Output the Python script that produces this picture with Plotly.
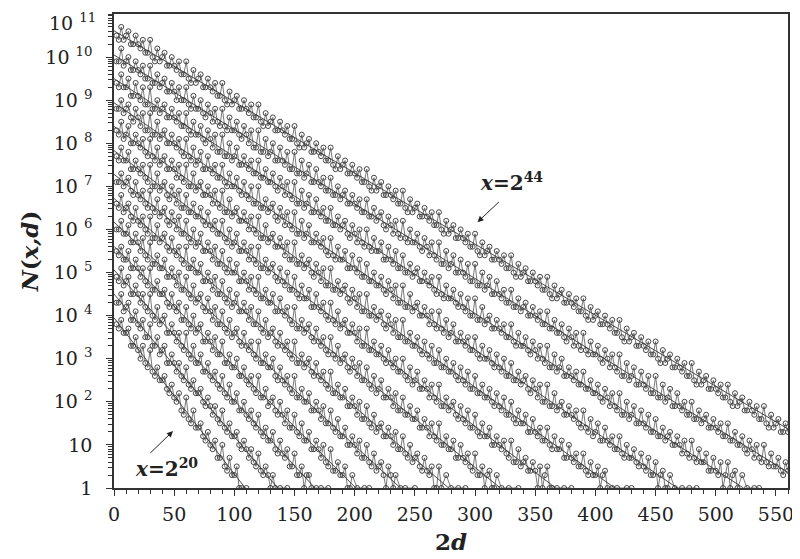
import plotly.graph_objects as go

# N(x,d): number of prime gaps of size 2d below x.
# values are log10(N) in tenths, point i is at 2d = 2*(i+1); None = no point
x_exp = [20, 22, 24, 26, 28, 30, 32, 34, 36, 38, 40, 42, 44]

n20 = [38,37,39,36,36,37,33,33,35,32,30,33,29,28,32,
       27,26,28,25,25,26,23,22,24,21,20,22,18,17,21,
       16,15,18,14,14,15,12,11,13,10,9,11,7,7,10,
       5,4,7,3,3,5,0,0,None,0]
n22 = [43,43,45,41,42,43,39,39,41,38,37,39,35,35,38,
       33,33,35,31,32,33,29,29,31,29,27,29,26,25,28,
       24,23,25,22,22,23,20,19,21,19,17,19,16,15,18,
       14,13,15,12,12,13,10,9,11,9,7,9,6,5,8,
       4,3,5,3,0,3,0,None,0,None,None,0]
n24 = [49,48,51,47,48,49,45,45,47,45,43,45,42,41,45,
       40,39,42,38,39,40,36,36,38,36,34,36,33,32,36,
       31,30,33,29,29,31,27,27,29,26,25,27,24,23,26,
       22,21,24,20,20,22,18,18,20,17,16,18,15,14,17,
       13,12,14,11,11,13,9,8,11,8,7,9,5,5,8,
       3,3,5,0,3,3,0,None,0,None,0,None,None,0]
n26 = [55,54,56,53,53,55,51,51,53,51,49,51,48,47,51,
       46,46,48,45,45,46,43,42,45,42,41,43,39,39,42,
       38,37,40,36,37,38,34,34,36,34,32,35,31,31,34,
       29,29,31,28,28,30,26,26,28,25,24,26,23,22,26,
       21,21,23,19,20,21,18,17,20,17,15,18,14,14,17,
       13,12,15,11,11,13,9,9,11,9,7,10,6,5,9,
       4,4,6,3,3,5,0,0,3,None,0,None,None,0,None,0]
n28 = [60,60,62,59,59,61,57,57,59,57,55,58,54,53,57,
       52,52,54,51,51,53,49,49,51,49,47,50,46,46,49,
       45,44,47,43,44,45,42,41,44,41,39,42,38,38,41,
       37,36,39,35,36,37,34,33,36,33,32,34,31,30,34,
       29,29,31,28,28,30,26,25,28,25,24,26,23,22,26,
       21,21,23,20,20,22,18,18,20,18,16,19,15,15,18,
       14,13,16,12,12,14,10,10,12,10,8,11,7,7,10,
       6,5,8,4,5,6,3,0,5,3,0,3,None,0,None,0,None,None,None,0]
n30 = [66,65,68,64,65,66,63,62,65,62,61,63,60,59,63,
       58,58,61,57,58,59,56,55,58,55,54,56,53,52,56,
       51,51,53,50,50,52,48,48,50,48,46,49,45,45,48,
       44,43,46,42,43,45,41,41,43,41,39,42,38,38,41,
       37,36,39,35,36,37,34,33,36,33,32,34,31,30,34,
       29,29,31,28,29,30,27,26,29,26,25,27,24,23,27,
       22,22,24,21,21,23,19,19,21,19,17,20,16,16,19,
       15,14,17,13,14,15,12,12,14,12,10,13,9,9,12,
       8,7,10,6,7,8,5,4,7,4,3,5,0,0,5,
       0,None,3,None,0,None,None,0,None,None,0]
n32 = [71,71,73,70,71,72,69,68,71,68,67,69,66,65,69,
       65,64,67,63,64,65,62,61,64,62,60,63,59,59,62,
       58,57,60,56,57,59,55,55,57,55,53,56,52,52,55,
       51,50,53,50,50,52,48,48,50,48,46,49,46,45,49,
       44,44,46,43,43,45,41,41,44,41,40,42,39,38,42,
       37,37,39,36,37,38,35,34,37,34,33,35,32,31,35,
       31,30,33,29,30,31,28,27,30,28,26,29,25,25,28,
       24,23,26,22,23,25,21,21,23,21,19,22,18,18,21,
       17,17,19,16,16,18,14,14,16,14,12,15,12,11,15,
       10,10,12,9,9,11,7,7,10,7,6,8,5,4,8,
       3,3,5,0,3,4,0,0,3,None,0,None,None,0,None,None,None,0]
n34 = [77,76,79,76,76,78,74,74,76,74,73,75,72,71,75,
       70,70,73,69,70,71,68,67,70,68,66,69,65,65,68,
       64,64,66,63,63,65,62,61,64,61,60,62,59,59,62,
       58,57,60,56,57,59,55,55,57,55,53,56,53,52,56,
       51,51,53,50,51,52,49,48,51,48,47,50,46,46,49,
       45,44,47,44,44,46,42,42,45,42,41,43,40,39,43,
       39,38,41,37,38,39,36,36,38,36,34,37,33,33,37,
       32,32,34,31,31,33,30,29,32,29,28,30,27,27,30,
       26,25,28,24,25,27,23,23,25,23,21,24,21,20,24,
       19,19,21,18,19,20,17,16,19,16,15,18,14,14,17,
       13,12,15,12,12,14,10,10,12,10,9,11,8,7,11,
       6,6,9,5,6,7,4,4,6,4,0,5,0,3,5,0,0,None,
       0,None,None,0,None,None,0]
n36 = [83,82,85,81,82,84,80,80,82,80,79,81,78,77,81,
       77,76,79,75,76,77,74,74,76,74,72,75,72,71,75,
       70,70,73,69,70,71,68,68,70,68,66,69,66,65,69,
       64,64,67,63,64,65,62,62,64,62,60,63,60,59,63,
       58,58,61,57,58,59,56,56,58,56,54,57,53,53,57,
       52,52,54,51,52,53,50,49,52,50,48,51,47,47,51,
       46,46,48,45,46,47,44,43,46,44,42,45,41,41,45,
       40,40,42,39,40,41,38,37,40,38,36,39,35,35,39,
       34,34,36,33,33,35,32,31,34,31,30,33,29,29,32,
       28,28,30,27,27,29,26,25,28,25,24,27,23,23,26,
       22,22,24,21,21,23,20,19,22,19,18,21,17,17,20,
       16,15,18,15,15,17,13,13,16,13,12,14,11,11,14,
       10,9,12,9,9,11,7,7,10,7,6,8,5,5,8,
       4,3,6,3,3,5,0,3,4,0,None,0,None,
       0,None,None,None,0,None,0]
n38 = [88,88,90,87,88,89,86,85,88,86,84,87,83,83,87,
       82,82,85,81,82,83,80,80,82,80,79,81,78,77,81,
       77,76,79,75,76,78,74,74,77,74,73,75,72,72,75,
       71,70,73,70,70,72,69,68,71,68,67,70,66,66,70,
       65,65,67,64,65,66,63,62,65,63,61,64,61,60,64,
       59,59,62,58,59,61,57,57,59,57,56,58,55,54,58,
       54,53,56,53,53,55,51,51,54,51,50,53,49,49,52,
       48,48,50,47,47,49,46,45,48,46,44,47,43,43,47,
       42,42,45,41,42,43,40,40,42,40,38,41,38,37,41,
       37,36,39,35,36,38,34,34,36,34,33,35,32,32,35,
       31,30,33,30,30,32,29,28,31,28,27,30,26,26,29,
       25,25,27,24,25,26,23,22,25,23,21,24,20,20,24,
       19,19,22,18,19,20,17,17,19,17,16,18,15,14,18,
       14,13,16,12,13,15,11,11,14,11,10,12,9,9,12,
       8,7,10,7,7,9,6,5,8,5,4,7,3,3,6,
       0,3,4,0,0,3,None,0,None,
       None,0,None,None,0,None,None,0]
n40 = [94,93,96,93,93,95,91,91,94,91,90,93,89,89,93,
       88,88,90,87,88,89,86,86,88,86,85,87,84,84,87,
       83,82,85,82,82,84,81,80,83,81,79,82,78,78,82,
       77,77,80,76,77,79,75,75,77,75,74,76,73,73,76,
       72,72,74,71,71,73,70,69,72,70,68,71,68,67,71,
       66,66,69,65,66,68,64,64,67,64,63,65,62,62,65,
       61,61,63,60,61,62,59,58,61,59,57,60,57,56,60,
       56,55,58,55,55,57,53,53,56,53,52,55,51,51,54,
       50,50,52,49,50,51,48,48,50,48,47,49,46,45,49,
       45,44,47,44,44,46,43,42,45,42,41,44,40,40,44,
       39,39,42,38,39,40,37,37,39,37,36,38,35,35,38,
       34,33,36,33,33,35,32,31,34,32,30,33,30,29,33,
       28,28,31,27,28,30,26,26,28,26,25,27,24,24,27,
       23,23,25,22,22,24,21,20,23,21,19,22,19,18,22,
       17,17,20,16,17,19,15,15,18,15,14,17,13,13,16,
       12,12,14,11,12,13,10,10,12,10,8,11,8,7,11,
       7,6,9,6,6,8,4,4,7,4,3,6,0,3,6,
       0,3,4,0,None,3,None,0,None,None,0,None,0]
n42 = [99,99,102,98,99,100,97,97,99,97,96,98,95,95,98,
       94,94,96,93,94,95,92,92,94,92,90,93,90,90,93,
       89,88,91,88,88,90,87,86,89,87,85,88,85,84,88,
       84,83,86,83,83,85,82,81,84,82,80,83,79,79,83,
       78,78,81,77,78,80,76,76,79,76,75,78,74,74,78,
       73,73,76,72,73,75,71,71,74,71,70,72,69,69,72,
       68,68,70,67,68,69,66,66,68,66,65,67,64,64,67,
       63,63,65,62,63,64,61,60,63,61,59,62,59,58,62,
       58,57,60,57,57,59,56,55,58,56,54,57,54,53,57,
       52,52,55,51,52,54,50,50,53,50,49,52,48,48,52,
       47,47,50,46,47,49,45,45,48,45,44,46,43,43,46,
       42,42,44,41,42,43,40,40,42,40,39,41,38,38,41,
       37,37,39,36,36,38,35,34,37,35,33,36,33,32,36,
       32,31,34,31,31,33,30,29,32,30,28,31,28,27,31,
       26,26,29,25,26,28,24,24,27,24,23,26,22,22,26,
       21,21,24,20,21,23,19,19,22,19,18,20,17,17,20,
       16,16,18,15,16,17,14,14,16,14,13,15,12,12,15,
       11,11,13,10,10,12,9,8,11,9,7,10,7,6,10,
       6,5,8,5,5,7,4,3,6,4]
n44 = [105,104,107,104,105,106,103,103,105,103,102,104,101,101,104,
       100,99,102,99,100,101,98,98,100,98,97,99,96,96,99,
       95,94,97,94,95,96,93,93,95,93,92,94,91,91,94,
       90,89,92,89,90,91,88,88,90,88,87,89,86,86,89,
       85,84,87,84,85,86,83,83,85,83,82,84,81,81,84,
       80,79,82,79,80,81,78,78,80,78,77,79,76,76,79,
       75,74,77,74,75,76,73,73,75,73,72,74,71,71,74,
       70,69,72,69,70,71,68,68,70,68,67,69,66,66,69,
       65,64,67,64,65,66,63,63,65,63,62,64,61,61,64,
       60,59,62,59,60,61,58,58,60,58,57,59,56,56,59,
       55,54,57,54,55,56,53,53,55,53,52,54,51,51,54,
       50,49,52,49,50,51,48,48,50,48,47,49,46,46,49,
       45,44,47,44,45,46,43,43,45,43,42,44,41,41,44,
       40,39,42,39,40,41,38,38,40,38,37,39,36,36,39,
       35,34,37,34,35,36,33,33,35,33,32,34,31,31,34,
       30,29,32,29,30,31,28,28,30,28,27,29,26,26,29,
       25,24,27,24,25,26,23,23,25,23,22,24,21,21,24,
       20,19,22,19,20,21,18,18,20,18,17,19,16,16,19,
       15,14,17,14,15,16,13,13,15,13]
series = [n20, n22, n24, n26, n28, n30, n32, n34, n36, n38, n40, n42, n44]

# straight fits: log10 N at 2d=0, and 2d where the fit reaches N=1
fit_log0 = [3.95, 4.5, 5.06, 5.61, 6.17, 6.72, 7.28, 7.83, 8.39, 8.94, 9.5, 10.05, 10.61]
fit_end = [109, 136, 167, 201, 238, 278, 321, 367, 416, 468, 523, 581, 643]

serif = "DejaVu Serif"
fig = go.Figure()
for k, vals in enumerate(series):
    xs = [2 * (i + 1) for i in range(len(vals))]
    ys = [None if v is None else 10 ** (v / 10) for v in vals]
    fig.add_trace(go.Scatter(
        x=xs, y=ys, mode="lines+markers", connectgaps=True,
        line=dict(color="#555", width=0.8),
        marker=dict(symbol="circle-open", size=5, color="#444", line=dict(width=1)),
        name="x=2^%d" % x_exp[k], showlegend=False))
    fig.add_trace(go.Scatter(
        x=[0, fit_end[k]], y=[10 ** fit_log0[k], 1], mode="lines",
        line=dict(color="#333", width=0.9), showlegend=False))

tickvals = [10 ** n for n in range(12)]
ticktext = ["1", "10"] + ["10 <sup>%d</sup>" % n for n in range(2, 12)]

# the page body adds 8px around the figure, margins below allow for it
fig.update_xaxes(range=[0, 560], tick0=0, dtick=50, ticks="outside", ticklen=6,
                 minor=dict(dtick=10, ticks="outside", ticklen=4, tickcolor="#333"),
                 showline=True, linecolor="#333", linewidth=1.5, mirror=True,
                 showgrid=False, zeroline=False, tickcolor="#333", automargin=False,
                 ticklabelstandoff=2,
                 tickfont=dict(family=serif, size=19, color="#222"),
                 title=dict(text="<b>2<i>d</i></b>", font=dict(family=serif, size=23, color="#222"),
                            standoff=10))
fig.update_yaxes(type="log", range=[0, 11], tickvals=tickvals[:-1], ticktext=ticktext[:-1],
                 ticks="outside", ticklen=6, tickcolor="#333", automargin=False,
                 minor=dict(dtick="D1", ticks="outside", ticklen=4, tickcolor="#333"),
                 showline=True, linecolor="#333", linewidth=1.5, mirror=True,
                 showgrid=False, zeroline=False, ticklabelstandoff=10,
                 tickfont=dict(family=serif, size=19, color="#222"),
                 title=dict(text="<b><i>N</i>(<i>x,d</i>)</b>", font=dict(family=serif, size=23, color="#222"),
                            standoff=0))
# top tick label would be clipped by plotly, so it is placed as an annotation
fig.add_annotation(x=0, xref="paper", xshift=-16, xanchor="right", y=11, yref="y",
                   yanchor="top", yshift=6, showarrow=False, text=ticktext[-1],
                   font=dict(family=serif, size=19, color="#222"))

fig.add_annotation(x=302, y=6.17, ax=321, ay=6.67, xref="x", yref="y", axref="x", ayref="y",
                   showarrow=True, arrowhead=2, arrowsize=1.2, arrowwidth=1, arrowcolor="#222", text="")
fig.add_annotation(x=330, y=7.1, xref="x", yref="y", showarrow=False,
                   text="<b><i>x</i>=2<sup>44</sup></b>", font=dict(family=serif, size=20, color="#222"))
fig.add_annotation(x=49, y=1.32, ax=29, ay=0.78, xref="x", yref="y", axref="x", ayref="y",
                   showarrow=True, arrowhead=2, arrowsize=1.2, arrowwidth=1, arrowcolor="#222", text="")
fig.add_annotation(x=44, y=0.46, xref="x", yref="y", showarrow=False,
                   text="<b><i>x</i>=2<sup>20</sup></b>", font=dict(family=serif, size=20, color="#222"))

fig.update_layout(width=800, height=559, plot_bgcolor="white", paper_bgcolor="white",
                  margin=dict(l=106, r=20, t=6, b=79))
fig.write_html("out.html")
